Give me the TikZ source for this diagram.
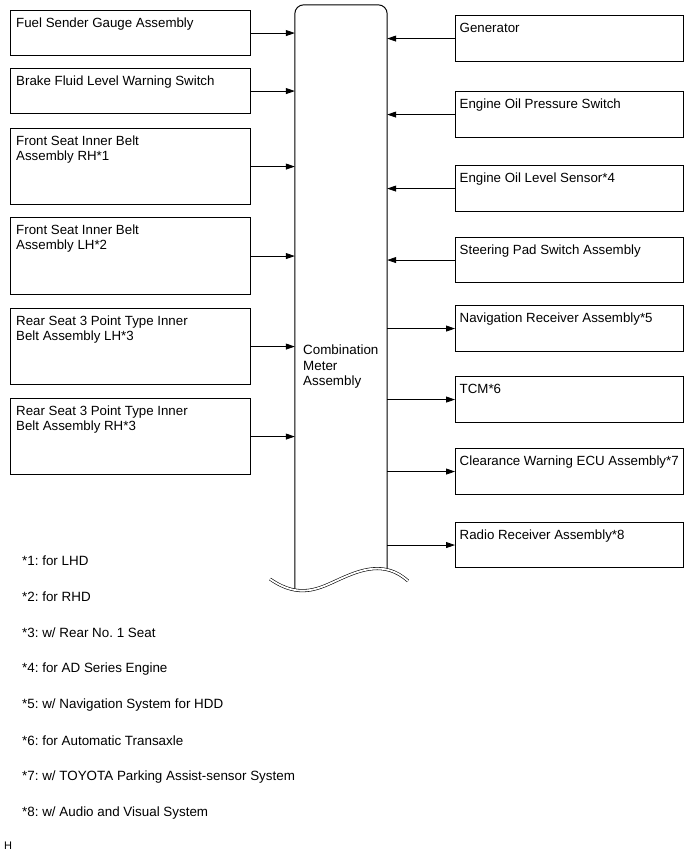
\documentclass[tikz,border=0pt]{standalone}
\usepackage{fontspec}
\setmainfont{Liberation Sans}
\frenchspacing
\usetikzlibrary{arrows.meta,positioning}
\definecolor{cmbInk}{HTML}{000000}
\definecolor{cmbPaper}{HTML}{FFFFFF}
\tikzset{
  cmb box/.style={draw=cmbInk, line width=1.1pt, inner sep=0pt, anchor=north west},
  cmb label/.style={anchor=north west, inner xsep=6pt, inner ysep=8pt, align=left,
    font=\fontsize{13.3}{15}\selectfont, text=cmbInk},
  cmb text/.style={inner sep=0pt, align=left, font=\fontsize{13.4}{15.5}\selectfont, text=cmbInk},
  cmb arrow/.style={draw=cmbInk, line width=0.8pt, -{Triangle[length=9pt,width=6pt]}},
  cmb edge/.style={draw=cmbInk, line width=1pt},
  cmb wave/.style={draw=cmbInk, line width=0.6pt, double=cmbPaper, double distance=1.8pt},
}

\begin{document}
\begin{tikzpicture}[x=1pt, y=-1pt]
  \useasboundingbox (0,0) rectangle (691,855);

  % Meter column, open at the bottom
  \node[minimum width=92, minimum height=585, inner sep=0pt] (meter) at (341,297.5) {};
  \coordinate (wave right) at (387,570);
  \draw[cmb edge, rounded corners=9pt]
    (meter.south west) -- (meter.north west) -- (meter.north east) -- (wave right);
  \draw[cmb wave]
    (270,579) .. controls (300,600) and (320,588) .. (340,579)
    .. controls (360,570) and (385,560) .. (408,581);
  \node[cmb text, anchor=west] (meter text) at (303,367) {Combination\\Meter\\Assembly};

  % Inputs on the left side
  \foreach \nm/\y/\h/\txt in {
      fuel/10/45/{Fuel Sender Gauge Assembly},
      brake/68/45/{Brake Fluid Level Warning Switch},
      frontrh/128/76/{Front Seat Inner Belt\\Assembly RH*1},
      frontlh/217/77/{Front Seat Inner Belt\\Assembly LH*2},
      rearlh/308/76/{Rear Seat 3 Point Type Inner\\Belt Assembly LH*3},
      rearrh/398/76/{Rear Seat 3 Point Type Inner\\Belt Assembly RH*3}} {
    \node[cmb box, minimum width=240, minimum height=\h,
      label={[cmb label]north west:\txt}] (\nm) at (10,\y) {};
    \draw[cmb arrow] (\nm.east) -- (\nm.east -| meter.west);
  }

  % Inputs on the right side
  \foreach \nm/\y/\h/\txt in {
      gen/15/46/{Generator},
      oilsw/91/46/{Engine Oil Pressure Switch},
      oillvl/165/46/{Engine Oil Level Sensor*4},
      steer/237/45/{Steering Pad Switch Assembly}} {
    \node[cmb box, minimum width=228, minimum height=\h,
      label={[cmb label, inner xsep=4.5pt]north west:\txt}] (\nm) at (455,\y) {};
    \draw[cmb arrow] (\nm.west) -- (\nm.west -| meter.east);
  }

  % Outputs on the right side
  \foreach \nm/\y/\h/\txt in {
      navi/305/46/{Navigation Receiver Assembly*5},
      tcm/376/46/{TCM*6},
      clear/448/46/{Clearance Warning ECU Assembly*7},
      radio/522/45/{Radio Receiver Assembly*8}} {
    \node[cmb box, minimum width=228, minimum height=\h,
      label={[cmb label, inner xsep=4.5pt]north west:\txt}] (\nm) at (455,\y) {};
    \draw[cmb arrow] (\nm.west -| meter.east) -- (\nm.west);
  }

  % Footnotes
  \foreach \txt [count=\k] in {
      {*1: for LHD}, {*2: for RHD}, {*3: w/ Rear No. 1 Seat},
      {*4: for AD Series Engine}, {*5: w/ Navigation System for HDD},
      {*6: for Automatic Transaxle}, {*7: w/ TOYOTA Parking Assist-sensor System},
      {*8: w/ Audio and Visual System}} {
    \node[cmb text, anchor=west] (note\k) at (22,{561+36*(\k-1)}) {\txt};
  }

  \node[cmb text, anchor=west, font=\fontsize{11}{13}\selectfont] (code) at (4,846) {H};
\end{tikzpicture}
\end{document}
